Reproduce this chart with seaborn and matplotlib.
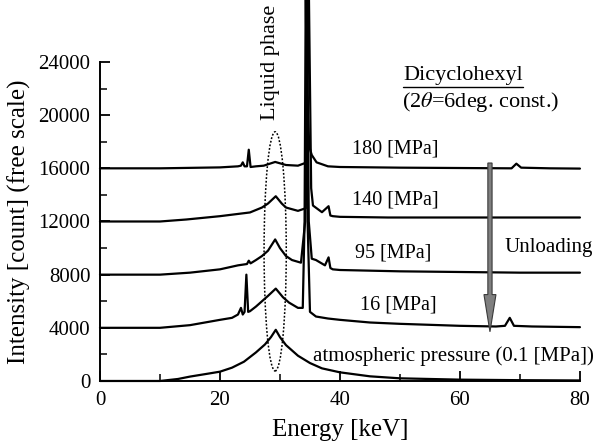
import numpy as np
import pandas as pd
import matplotlib
matplotlib.use("Agg")
import matplotlib.pyplot as plt
import seaborn as sns
from matplotlib.patches import Ellipse
from matplotlib.lines import Line2D
from matplotlib.ticker import MultipleLocator

# ---- data ----
e_atm = [0, 10, 13, 15, 18, 20, 22, 24, 26, 27.5, 28.5, 29.3, 30, 31, 32, 33, 35, 37, 40, 45, 50, 60, 70, 80]
i_atm = [0, 0, 150, 330, 550, 700, 1000, 1450, 2150, 2750, 3300, 3850, 3300, 2700, 2300, 1900, 1350, 950, 650, 350, 200, 100, 60, 40]

e_16 = [0, 10, 15, 20, 22, 23, 23.5, 23.8, 24.1, 24.4, 24.7, 25, 26, 27, 28, 29.3, 30.5, 31.5, 33, 33.8, 34.1, 34.3, 34.6, 35, 36, 38, 40, 45, 50, 60, 66, 67.5, 68.3, 69, 72, 80]
i_16 = [4000, 4000, 4200, 4600, 4750, 5000, 5500, 5000, 5200, 8000, 5200, 5250, 5600, 6000, 6400, 6950, 6300, 5900, 5500, 5500, 12000, 30000, 12000, 5200, 4850, 4700, 4600, 4400, 4300, 4150, 4100, 4150, 4750, 4150, 4100, 4050]

e_95 = [0, 10, 15, 20, 23, 24.5, 24.8, 25.1, 26, 27, 28, 29.2, 30, 31, 32, 33.5, 34.2, 34.5, 34.8, 35.3, 36, 37.5, 38.1, 38.4, 38.8, 40, 45, 50, 60, 70, 80]
i_95 = [8000, 8000, 8150, 8400, 8700, 8800, 9050, 8850, 9100, 9400, 9800, 10650, 10000, 9400, 9100, 8900, 12000, 30000, 12000, 9200, 9100, 8700, 9300, 8500, 8400, 8350, 8300, 8250, 8200, 8150, 8150]

e_140 = [0, 10, 14.4, 20, 25, 27, 28, 29.3, 30.3, 31, 33, 34.3, 34.8, 35.2, 35.5, 37, 38.1, 38.4, 38.8, 40, 48, 60, 80]
i_140 = [12000, 12000, 12150, 12400, 12680, 13050, 13350, 13900, 13350, 13050, 12800, 13000, 30000, 14500, 13200, 12700, 13150, 12450, 12400, 12350, 12300, 12300, 12300]

e_180 = [0, 10, 20, 23, 23.5, 23.8, 24.1, 24.5, 24.8, 25.1, 26, 27.3, 29.2, 31, 33, 34.2, 34.5, 34.9, 35.3, 36.1, 38, 40, 50, 68.6, 69.4, 70.2, 75, 80]
i_180 = [16000, 16000, 16070, 16150, 16200, 16450, 16150, 16150, 17400, 16100, 16150, 16200, 16480, 16250, 16200, 16400, 21500, 17600, 17000, 16450, 16150, 16100, 16050, 16000, 16350, 16050, 16000, 15980]

series_labels = ["atmospheric pressure (0.1 [MPa])", "16 [MPa]", "95 [MPa]", "140 [MPa]", "180 [MPa]"]
series_e = [e_atm, e_16, e_95, e_140, e_180]
series_i = [i_atm, i_16, i_95, i_140, i_180]

x_ticks = [0, 20, 40, 60, 80]
y_ticks = [0, 4000, 8000, 12000, 16000, 20000, 24000]

# ---- style ----
sns.set_style("ticks")
plt.rcParams["font.family"] = ["Liberation Serif", "DejaVu Serif"]
plt.rcParams["mathtext.fontset"] = "stix"
plt.rcParams["text.color"] = "black"
plt.rcParams["axes.labelcolor"] = "black"
plt.rcParams["xtick.color"] = "black"
plt.rcParams["ytick.color"] = "black"
plt.rcParams["axes.edgecolor"] = "black"

fig = plt.figure(figsize=(5.93, 4.47), dpi=100)
ax = fig.add_axes([0.1686, 0.1477, 0.8094, 0.7136])

for lab, e, i in zip(series_labels, series_e, series_i):
    df = pd.DataFrame({"Energy": e, "Intensity": i})
    sns.lineplot(data=df, x="Energy", y="Intensity", ax=ax, color="black",
                 lw=1.6, sort=False, estimator=None, clip_on=False)

ax.set_xlim(0, 80)
ax.set_ylim(0, 24000)
ax.set_xticks(x_ticks)
ax.set_yticks(y_ticks)
ax.xaxis.set_minor_locator(MultipleLocator(10))
ax.yaxis.set_minor_locator(MultipleLocator(2000))
ax.tick_params(which="major", direction="in", length=7, width=1.3, labelsize=15, pad=7)
ax.tick_params(which="minor", direction="in", length=5, width=1.1)
for s in ["top", "right"]:
    ax.spines[s].set_visible(False)
for s in ["left", "bottom"]:
    ax.spines[s].set_linewidth(1.4)

ax.set_xlabel("Energy [keV]", fontsize=18, labelpad=7)
ax.set_ylabel("Intensity [count] (free scale)", fontsize=18, labelpad=5)

# dotted ellipse (liquid phase)
ax.add_patch(Ellipse((29.2, 9750), 3.7, 18000, fill=False, ls=(0, (1.2, 1.2)), lw=1.1, ec="black"))
ax.text(28.4, 24000, "Liquid phase", rotation=90, ha="center", va="center", fontsize=16, clip_on=False)

# unloading arrow
ax.arrow(65, 16400, 0, -12700, width=0.7, head_width=2.0, head_length=2800,
         length_includes_head=True, fc="#7f7f7f", ec="#3a3a3a", lw=0.8, zorder=3)
ax.text(67.5, 10040, "Unloading", ha="left", va="center", fontsize=15, clip_on=False)

label_pos = [(35.5, 1890), (43.3, 5740), (42.5, 9660), (42.0, 13580), (42.0, 17430)]
label_size = [15, 14.5, 14.5, 14.5, 14.5]
for lab, (x, y), fs in zip(series_labels, label_pos, label_size):
    ax.text(x, y, lab, ha="left", va="center", fontsize=fs, clip_on=False)

t1 = ax.text(50.5, 23000, "Dicyclohexyl", ha="left", va="center", fontsize=16)
ax.text(50.4, 21000, "(2$\\theta$=6deg. const.)", ha="left", va="center", fontsize=16)

fig.canvas.draw()
bb = t1.get_window_extent().transformed(fig.transFigure.inverted())
fig.add_artist(Line2D([bb.x0, bb.x1], [bb.y0 - 0.004, bb.y0 - 0.004], color="black", lw=1.0,
                      transform=fig.transFigure))

fig.savefig("out.png", dpi=100)
